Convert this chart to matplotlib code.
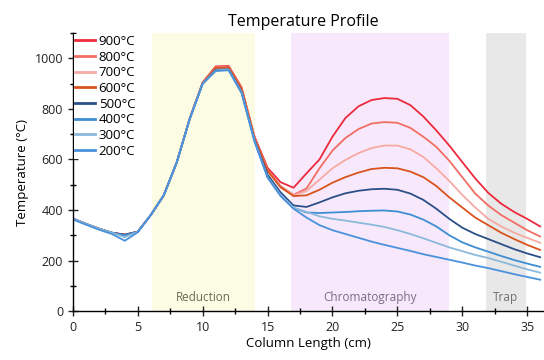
import numpy as np
import matplotlib
matplotlib.use("Agg")
import matplotlib.pyplot as plt
from matplotlib.ticker import MultipleLocator

plt.rcParams['font.family'] = ['Open Sans', 'DejaVu Sans']

# column position (cm)
x_cm = list(range(37))

# temperature profiles (deg C)
t900 = [366, 345, 326, 310, 302, 314, 380, 458, 588, 762, 905, 968, 970, 885, 690, 567, 510, 488, 545,
        600, 690, 764, 810, 835, 843, 840, 815, 770, 715, 655, 590, 525, 468, 425, 392, 365, 335]
t800 = [366, 345, 326, 310, 302, 314, 380, 458, 588, 762, 905, 965, 968, 880, 685, 560, 495, 460, 485,
        565, 635, 685, 720, 742, 748, 745, 725, 690, 650, 595, 530, 465, 418, 380, 350, 320, 295]
t700 = [366, 345, 326, 310, 302, 314, 380, 458, 588, 760, 903, 962, 965, 878, 682, 555, 490, 458, 475,
        520, 565, 598, 625, 645, 655, 655, 640, 610, 565, 515, 460, 410, 365, 335, 310, 290, 270]
t600 = [366, 345, 326, 310, 302, 314, 380, 458, 588, 760, 903, 962, 965, 878, 682, 555, 490, 455, 458,
        480, 508, 530, 548, 562, 567, 565, 552, 530, 495, 450, 410, 370, 340, 310, 285, 262, 242]
t500 = [366, 345, 326, 310, 302, 314, 380, 458, 588, 760, 900, 955, 957, 868, 675, 540, 470, 418, 412,
        430, 450, 466, 476, 482, 484, 480, 465, 440, 405, 365, 330, 305, 285, 265, 245, 228, 213]
t400 = [366, 345, 326, 310, 300, 314, 380, 458, 588, 760, 900, 952, 955, 865, 672, 530, 460, 408, 390,
        388, 390, 392, 395, 397, 398, 394, 382, 362, 335, 300, 272, 252, 235, 218, 202, 188, 175]
t300 = [366, 345, 326, 310, 292, 314, 380, 458, 588, 760, 900, 952, 955, 865, 672, 530, 460, 410, 392,
        375, 365, 358, 350, 342, 333, 320, 305, 288, 270, 252, 237, 222, 210, 195, 180, 165, 152]
t200 = [362, 342, 322, 305, 278, 312, 380, 458, 588, 760, 900, 950, 953, 862, 670, 528, 455, 405, 370,
        340, 320, 305, 290, 275, 262, 250, 238, 225, 214, 203, 192, 180, 170, 158, 146, 135, 124]

labels = ['900°C', '800°C', '700°C', '600°C', '500°C', '400°C', '300°C', '200°C']
series = [t900, t800, t700, t600, t500, t400, t300, t200]
colors = ['#ec2a3c', '#f26d64', '#f7a9a3', '#d9531e', '#2b4f86', '#3d8ed2', '#8cb9da', '#4a91dc']

# zones along the column
zones = [('Reduction', 6.1, 14.0, '#fcfbe4'),
         ('Chromatography', 16.8, 29.0, '#f7e9fb'),
         ('Trap', 31.8, 34.9, '#e8e8e8')]
zone_text = ['#6b6a52', '#7b6c86', '#707070']

fig = plt.figure(figsize=(5.44, 3.6), dpi=100)
ax = fig.add_axes([0.134, 0.136, 0.866, 0.772])

for (name, x0, x1, c), tc in zip(zones, zone_text):
    ax.axvspan(x0, x1, color=c, lw=0, zorder=0)
    ax.text((x0 + x1) / 2, 55, name, ha='center', va='center', fontsize=8.5, color=tc)

for y, c, lab in zip(series, colors, labels):
    ax.plot(x_cm, y, color=c, lw=1.3, label=lab)

ax.set_xlim(0, 36.3)
ax.set_ylim(0, 1100)
ax.xaxis.set_major_locator(MultipleLocator(5))
ax.xaxis.set_minor_locator(MultipleLocator(2.5))
ax.yaxis.set_major_locator(MultipleLocator(200))
ax.yaxis.set_minor_locator(MultipleLocator(100))
ax.tick_params(which='major', direction='inout', length=7, width=1, labelsize=9, colors='#222222')
ax.tick_params(which='minor', direction='inout', length=4, width=1)
for s in ['top', 'right']:
    ax.spines[s].set_visible(False)
for s in ['left', 'bottom']:
    ax.spines[s].set_linewidth(1)

ax.set_xlabel('Column Length (cm)', fontsize=9.5, labelpad=2)
ax.set_ylabel('Temperature (°C)', fontsize=9.5, labelpad=4)
ax.set_title('Temperature Profile', fontsize=11.5, pad=5, x=0.49)

leg = ax.legend(loc='upper left', fontsize=9.5, handlelength=1.5, handletextpad=0.3,
                labelspacing=0.2, borderaxespad=0.05, borderpad=0.1,
                frameon=True, fancybox=False, edgecolor='none', framealpha=1)
for h in leg.get_lines():
    h.set_linewidth(2)

fig.savefig('out.png', dpi=100)
